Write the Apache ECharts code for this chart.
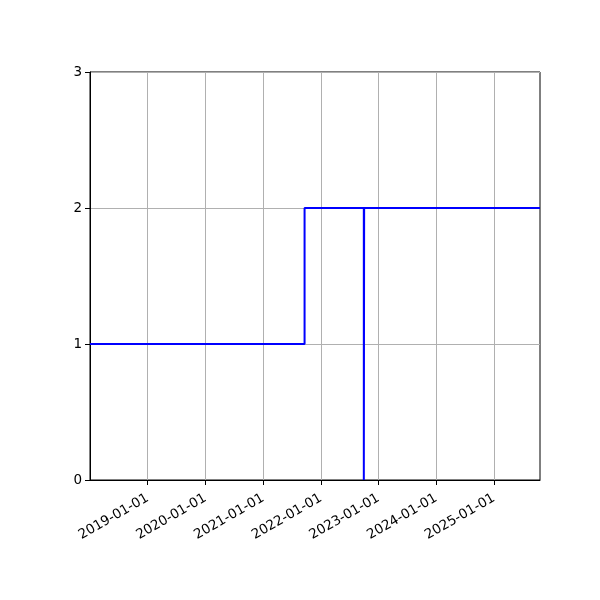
<!DOCTYPE html>
<html>
<head>
<meta charset="utf-8">
<script src="https://cdn.jsdelivr.net/npm/echarts@6/dist/echarts.min.js"></script>
<style>
  html, body { margin: 0; padding: 0; background: #fff; }
  #chart { width: 600px; height: 600px; }
</style>
</head>
<body>
<div id="chart"></div>
<script>
// step data: dates and levels
const dates = ['2018-01-01', '2021-09-20', '2022-09-30', '2022-10-02', '2025-10-19'];
const levels = [1, 2, 0, 2, 2];
const tickYears = [2019, 2020, 2021, 2022, 2023, 2024, 2025];
const yTicks = [0, 1, 2, 3];

const DAY = 24 * 3600 * 1000;
const YEAR = 365.25 * DAY;
const toMs = s => Date.parse(s + 'T00:00:00Z');
const tickMs = tickYears.map(y => Date.UTC(y, 0, 1));
const pad = n => (n < 10 ? '0' : '') + n;
const fmtDate = v => {
  const d = new Date(v);
  return d.getUTCFullYear() + '-' + pad(d.getUTCMonth() + 1) + '-' + pad(d.getUTCDate());
};

const chart = echarts.init(document.getElementById('chart'));
chart.setOption({
  animation: false,
  grid: { left: 90, right: 60, top: 72, bottom: 120, show: true, borderColor: '#000', borderWidth: 1 },
  xAxis: {
    type: 'value',
    min: toMs(dates[0]),
    max: toMs(dates[dates.length - 1]),
    interval: YEAR,
    axisLine: { lineStyle: { color: '#000', width: 1 } },
    axisTick: { show: true, length: 5, lineStyle: { color: '#000' }, customValues: tickMs },
    axisLabel: {
      customValues: tickMs,
      rotate: 30,
      align: 'right',
      verticalAlign: 'top',
      margin: 9,
      padding: [0, 4, 0, 0],
      color: '#000',
      fontSize: 13.5,
      fontFamily: 'DejaVu Sans',
      formatter: v => fmtDate(v)
    },
    splitLine: { show: true, lineStyle: { color: '#b0b0b0', width: 1 } }
  },
  yAxis: {
    type: 'value',
    min: yTicks[0],
    max: yTicks[yTicks.length - 1],
    interval: 1,
    axisLine: { show: true, lineStyle: { color: '#000', width: 1 } },
    axisTick: { show: true, length: 5, lineStyle: { color: '#000' } },
    axisLabel: { margin: 8, color: '#000', fontSize: 13.5, fontFamily: 'DejaVu Sans' },
    splitLine: { show: true, lineStyle: { color: '#b0b0b0', width: 1 } }
  },
  series: [{
    type: 'line',
    step: 'end',
    data: dates.map((d, i) => [toMs(d), levels[i]]),
    showSymbol: false,
    lineStyle: { color: '#0000ff', width: 2 },
    itemStyle: { color: '#0000ff' }
  }]
});
</script>
</body>
</html>
